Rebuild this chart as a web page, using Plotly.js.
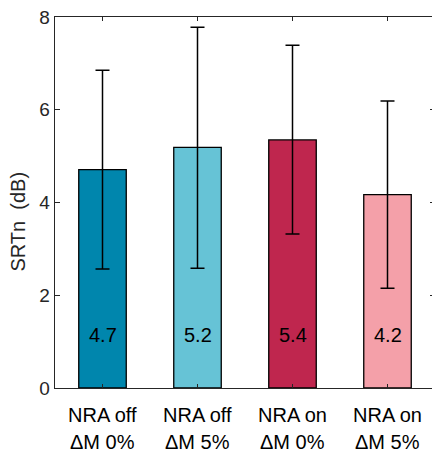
<!DOCTYPE html>
<html>
<head>
<meta charset="utf-8">
<script src="https://cdn.plot.ly/plotly-3.0.1.min.js"></script>
<style>
html, body { margin:0; padding:0; overflow:hidden; background:#fff; }
#chart { width:436px; height:452px; }
</style>
</head>
<body>
<div id="chart"></div>
<script>
const categories = ['NRA off ΔM 0%', 'NRA off ΔM 5%', 'NRA on ΔM 0%', 'NRA on ΔM 5%'];
const tickLine1 = ['NRA off', 'NRA off', 'NRA on', 'NRA on'];
const tickLine2 = ['ΔM 0%', 'ΔM 5%', 'ΔM 0%', 'ΔM 5%'];
const means = [4.71, 5.19, 5.35, 4.17];
const upper = [6.85, 7.78, 7.39, 6.19];
const lower = [2.565, 2.58, 3.32, 2.15];
const labels = ['4.7', '5.2', '5.4', '4.2'];
const colors = ['#0086AD', '#66C3D6', '#BF264E', '#F4A0A9'];
const yTicks = [0, 2, 4, 6, 8];
const labelY = 1.14;

const errPlus = means.map((m, i) => upper[i] - m);
const errMinus = means.map((m, i) => m - lower[i]);

const trace = {
  type: 'bar',
  x: categories,
  y: means,
  width: 0.5,
  marker: { color: colors, line: { color: '#000000', width: 1.3 } },
  error_y: { type: 'data', symmetric: false, array: errPlus, arrayminus: errMinus,
             color: '#000000', thickness: 1.5, width: 7 },
  hoverinfo: 'none'
};

const fontFam = 'Liberation Sans, Arial, sans-serif';
const annotations = [];
categories.forEach((c, i) => {
  annotations.push({ x: c, y: labelY, xref: 'x', yref: 'y', text: labels[i], showarrow: false,
    font: { family: fontFam, size: 20, color: '#000' }, xanchor: 'center', yanchor: 'middle' });
  annotations.push({ x: c, y: 0, xref: 'x', yref: 'paper', text: tickLine1[i], showarrow: false,
    font: { family: fontFam, size: 20, color: '#000' }, xanchor: 'center', yanchor: 'middle', yshift: -27 });
  annotations.push({ x: c, y: 0, xref: 'x', yref: 'paper', text: tickLine2[i], showarrow: false,
    font: { family: fontFam, size: 20, color: '#000' }, xanchor: 'center', yanchor: 'middle', yshift: -54 });
});
annotations.push({ x: -0.097, y: 0.449, xref: 'paper', yref: 'paper', text: 'SRTn&nbsp;&nbsp;(dB)',
  showarrow: false, textangle: -90, font: { family: fontFam, size: 20, color: '#262626' },
  xanchor: 'center', yanchor: 'middle' });

const layout = {
  width: 436, height: 452,
  margin: { l: 55, r: 1, t: 17, b: 64 },
  paper_bgcolor: '#ffffff', plot_bgcolor: '#ffffff',
  showlegend: false,
  font: { family: fontFam, color: '#262626' },
  xaxis: {
    type: 'category', range: [-0.5, 3.5], showticklabels: false,
    ticks: 'inside', ticklen: 4, tickwidth: 1.3, tickcolor: '#262626',
    showline: true, linecolor: '#262626', linewidth: 1.3, mirror: 'ticks',
    showgrid: false, zeroline: false, fixedrange: true
  },
  yaxis: {
    range: [0, 8], tickvals: yTicks, ticktext: yTicks.map(String),
    ticks: 'inside', ticklen: 5, tickwidth: 1.3, tickcolor: '#262626',
    tickfont: { family: fontFam, size: 19, color: '#262626' },
    showline: true, linecolor: '#262626', linewidth: 1.3, mirror: 'ticks',
    showgrid: false, zeroline: false, fixedrange: true
  },
  annotations: annotations
};

Plotly.newPlot('chart', [trace], layout, { staticPlot: true, displayModeBar: false });
</script>
</body>
</html>
